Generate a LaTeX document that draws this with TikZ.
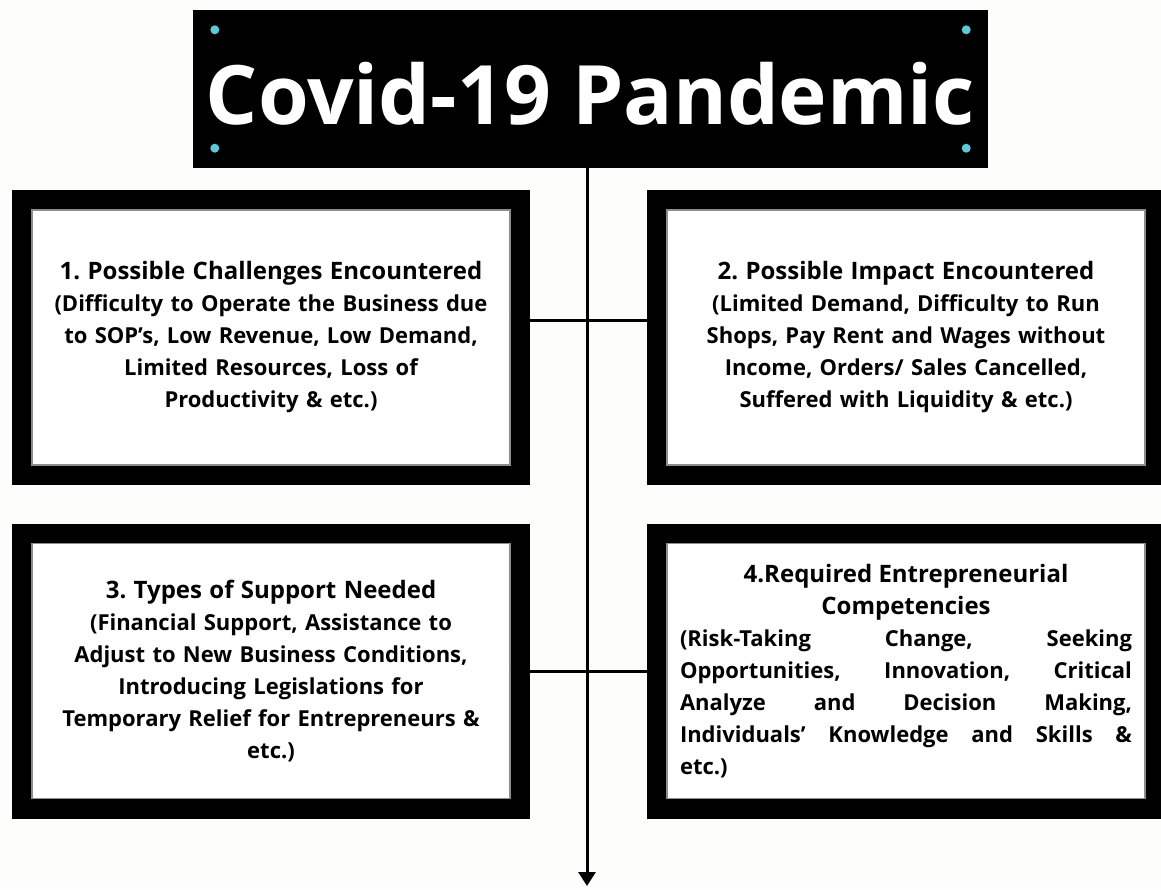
\documentclass[tikz,border=0pt]{standalone}
\usepackage{fontspec}
\setmainfont{Open Sans}
\usetikzlibrary{positioning,arrows.meta}
\definecolor{dotcyan}{HTML}{5CC8D8}
\definecolor{paper}{HTML}{FDFDFB}

\begin{document}
\frenchspacing
\begin{tikzpicture}[x=1pt,y=-1pt,every node/.style={font=\bfseries}]
    \tikzstyle{frame}=[fill=white,draw=black!45,line width=1.2pt,inner sep=0pt,
                       minimum width=478pt,minimum height=255pt,text width=460pt,align=center,
                       font=\fontsize{22}{32}\selectfont\bfseries,
                       preaction={draw=black,line width=40pt}];
    \tikzstyle{head}=[fill=black,minimum width=795pt,minimum height=158pt,text=white,inner sep=0pt,
                      text height=70pt,text depth=0pt,
                      font=\fontsize{82}{96}\selectfont\bfseries];
    \fill[paper] (0,0) rectangle (1161,889);
    \useasboundingbox (0,0) rectangle (1161,889);

    \node[head] (ttl) at (590.5,89) {Covid-19 Pandemic};
    \fill[dotcyan] ([shift={(22,20)}]ttl.north west) circle (4.5);
    \fill[dotcyan] ([shift={(-22,20)}]ttl.north east) circle (4.5);
    \fill[dotcyan] ([shift={(22,-20)}]ttl.south west) circle (4.5);
    \fill[dotcyan] ([shift={(-22,-20)}]ttl.south east) circle (4.5);

    \node[frame] (b1) at (271,337.5) {{\fontsize{24}{32}\selectfont 1. Possible Challenges Encountered}\\
      (Difficulty to Operate the Business due\\ to SOP's, Low Revenue, Low Demand,\\
      Limited Resources, Loss of\\ Productivity \& etc.)\par\vspace*{42pt}};
    \node[frame] (b2) at (906,337.5) {{\fontsize{24}{32}\selectfont 2. Possible Impact Encountered}\\
      (Limited Demand, Difficulty to Run\\ Shops, Pay Rent and Wages without\\
      Income, Orders/ Sales Cancelled,\\ Suffered with Liquidity \& etc.)\par\vspace*{42pt}};
    \node[frame] (b3) at (271,671) {{\fontsize{24}{32}\selectfont 3. Types of Support Needed}\\
      (Financial Support, Assistance to\\ Adjust to New Business Conditions,\\
      Introducing Legislations for\\ Temporary Relief for Entrepreneurs \&\\ etc.)};
    \node[frame,text width=452pt,align=justify] (b4) at (906,671) {{\centering\fontsize{24}{32}\selectfont
      4.Required Entrepreneurial\\ Competencies\par}
      (Risk-Taking Change, Seeking\linebreak Opportunities, Innovation, Critical\linebreak
      Analyze and Decision Making,\linebreak Individuals' Knowledge and Skills \&\linebreak etc.)};

    \coordinate (tip) at (587,886);
    \draw[line width=3pt,-{Triangle[width=17pt,length=14pt]}] (ttl.south -| tip) -- (tip);
    \draw[line width=3pt] ([yshift=17pt]b1.east) -- ([yshift=17pt]b2.west);
    \draw[line width=3pt] (b3.east) -- (b4.west);
\end{tikzpicture}
\end{document}
